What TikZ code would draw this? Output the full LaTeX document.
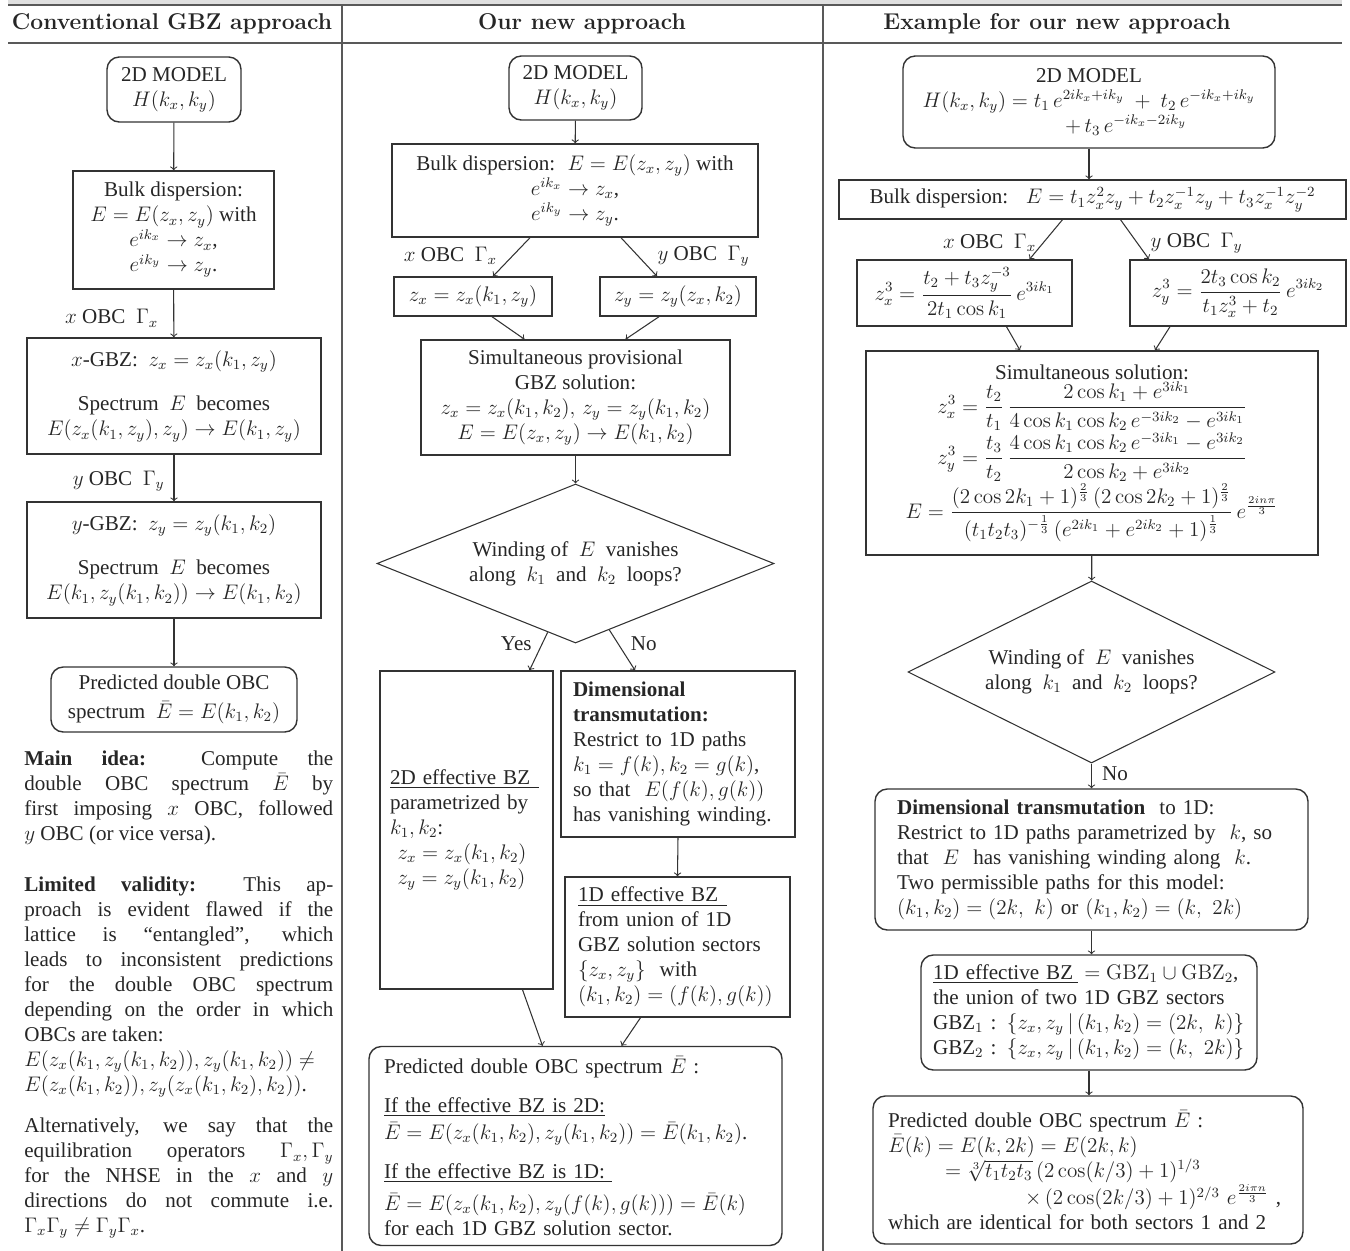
\documentclass[tikz,border=0pt]{standalone}
\usepackage{amsmath}
\usepackage{amssymb}
\usepackage{fontspec}
\newfontfamily\tms{Liberation Serif}
\usetikzlibrary{shapes.geometric,calc}

\tikzset{
  body/.style={font=\tms\fontsize{12}{14.2}\selectfont, text=black!85},
  box/.style={body, draw=black!80, line width=0.8pt, rectangle, align=center, inner sep=0pt},
  rbox/.style={box, rounded corners=7pt},
  lbox/.style={box, align=left},
  choice/.style={body, draw=black!80, line width=0.6pt, diamond, aspect=2, align=center, inner sep=0pt},
  sz/.style 2 args={minimum width=#1*0.02cm, minimum height=#2*0.02cm},
  arr/.style={draw=black!80, line width=0.6pt, ->},
  lbl/.style={body, inner sep=0pt},
  head/.style={font=\bfseries\fontsize{13}{15}\selectfont, text=black!85},
  rule/.style={draw=black!65, line width=1pt},
}

\begin{document}
\begin{tikzpicture}[x=0.02cm, y=-0.02cm]
\useasboundingbox (0,0) rectangle (1350,1251);

% table frame
\fill[black!12] (8,0) rectangle (1342,4);
\draw[rule] (8,5) -- (1342,5);
\draw[rule] (8,43) -- (1342,43);
\draw[rule] (342,5) -- (342,1251);
\draw[rule] (823,5) -- (823,1251);

\node[head] (hdL) at (172,24) {Conventional GBZ approach};
\node[head] (hdM) at (582,24) {Our new approach};
\node[head] (hdR) at (1057,24) {Example for our new approach};

% conventional approach
\node[rbox, sz={134}{65}] (modelL) at (174,89.5) {2D MODEL\\$H(k_x,k_y)$};
\node[box, sz={201}{118}] (bulkL) at (173.5,230) {Bulk dispersion:\\$E = E(z_x,z_y)$ with\\$e^{ik_x}\to z_x$,\\$e^{ik_y}\to z_y$.};
\node[box, sz={294}{116}] (xgbzL) at (174,396) {$x$-GBZ: \ $z_x = z_x(k_1,z_y)$\\[0.4cm]Spectrum \ $E$ \ becomes\\$E(z_x(k_1,z_y),z_y)\to E(k_1,z_y)$};
\node[box, sz={294}{116}] (ygbzL) at (174,560) {$y$-GBZ: \ $z_y = z_y(k_1,k_2)$\\[0.4cm]Spectrum \ $E$ \ becomes\\$E(k_1,z_y(k_1,k_2))\to E(k_1,k_2)$};
\node[rbox, sz={246}{65}] (predL) at (174,699.5) {Predicted double OBC\\[2pt]spectrum \ $\bar E = E(k_1,k_2)$};

\draw[arr] (modelL) -- (bulkL);
\draw[arr] (bulkL) -- node[lbl, pos=0.6, left=0.3cm] {$x$ OBC~~$\Gamma_x$} (xgbzL);
\draw[arr] (xgbzL) -- node[lbl, pos=0.56, left=0.18cm] {$y$ OBC~~$\Gamma_y$} (ygbzL);
\draw[arr] (ygbzL) -- (predL);

\node[lbl, anchor=north west, text width=6.18cm, align=justify] (ideaL) at (24,751)
  {\textbf{Main idea:} Compute the\linebreak double OBC spectrum $\bar E$ by\linebreak first imposing $x$ OBC, followed\linebreak $y$ OBC (or vice versa).};
\node[lbl, anchor=north west, text width=6.18cm, align=justify] (limitL) at (24,877)
  {\textbf{Limited validity:} This ap-\linebreak proach is evident flawed if the\linebreak lattice is “entangled”, which\linebreak leads to inconsistent predictions\linebreak for the double OBC spectrum\linebreak depending on the order in which\linebreak OBCs are taken:\\
  $E(z_x(k_1,z_y(k_1,k_2)),z_y(k_1,k_2))\neq$\\
  $E(z_x(k_1,k_2)),z_y(z_x(k_1,k_2),k_2))$.};
\node[lbl, anchor=north west, text width=6.18cm, align=justify] (altL) at (24,1118)
  {Alternatively, we say that the\linebreak equilibration operators $\Gamma_x,\Gamma_y$\linebreak for the NHSE in the $x$ and $y$\linebreak directions do not commute i.e.\linebreak $\Gamma_x\Gamma_y\neq\Gamma_y\Gamma_x$.};

% new approach
\node[rbox, sz={133}{64}] (modelM) at (575.5,88) {2D MODEL\\$H(k_x,k_y)$};
\node[box, sz={366}{93}] (bulkM) at (575,190.5) {Bulk dispersion: \ $E = E(z_x,z_y)$ with\\$e^{ik_x}\to z_x$,\\$e^{ik_y}\to z_y$.};
\node[box, sz={158}{39}] (zxM) at (473,296.5) {$z_x = z_x(k_1,z_y)$};
\node[box, sz={156}{39}] (zyM) at (678,296.5) {$z_y = z_y(z_x,k_2)$};
\node[box, sz={309}{115}] (simM) at (575.5,397.5) {Simultaneous provisional\\GBZ solution:\\$z_x = z_x(k_1,k_2),\, z_y = z_y(k_1,k_2)$\\$E = E(z_x,z_y)\to E(k_1,k_2)$};
\node[choice, sz={397}{159}] (diaM) at (575.5,563.5) {Winding of \ $E$ \ vanishes\\along \ $k_1$ \ and \ $k_2$ \ loops?};
\node[lbox, sz={173}{318}, text width=3.06cm] (eff2M) at (466.5,830)
  {\underline{2D effective BZ\hspace{5pt}}\\parametrized by\\$k_1,k_2$:\\\hspace*{0.15cm}$z_x = z_x(k_1,k_2)$\\\hspace*{0.15cm}$z_y = z_y(k_1,k_2)$};
\node[lbox, sz={234}{166}, text width=4.2cm] (dimM) at (678,754)
  {\textbf{Dimensional}\\\textbf{transmutation:}\\Restrict to 1D paths\\$k_1 = f(k), k_2 = g(k)$,\\so that \ $E(f(k),g(k))$\\has vanishing winding.};
\node[lbox, sz={225}{140}, text width=3.98cm] (eff1M) at (677.5,947)
  {\underline{1D effective BZ\hspace{5pt}}\\from union of 1D\\GBZ solution sectors\\$\{z_x,z_y\}$ \ with\\$(k_1,k_2) = (f(k),g(k))$};
\node[rbox, align=left, sz={413}{199}, text width=7.66cm] (predM) at (575.5,1146)
  {Predicted double OBC spectrum $\bar E$ :\\[8pt]
   \underline{If the effective BZ is 2D:}\\[1pt]
   $\bar E = E(z_x(k_1,k_2),z_y(k_1,k_2)) = \bar E(k_1,k_2)$.\\[8pt]
   \underline{If the effective BZ is 1D:\ }\\[4pt]
   $\bar E = E(z_x(k_1,k_2),z_y(f(k),g(k))) = \bar E(k)$\\
   for each 1D GBZ solution sector.};

\draw[arr] (modelM) -- (bulkM);
\draw[arr] ($(bulkM.south)+(-45,0)$) -- node[lbl, pos=0.475, left=0.3cm] {$x$ OBC~~$\Gamma_x$} ($(zxM.north)+(20,0)$);
\draw[arr] ($(bulkM.south)+(46,0)$) -- node[lbl, pos=0.475, right=0.38cm] {$y$ OBC~~$\Gamma_y$} ($(zyM.north)+(-21,0)$);
\draw[arr] ($(zxM.south)+(19,0)$) -- ($(simM.north)+(-51,0)$);
\draw[arr] ($(zyM.south)+(-19,0)$) -- ($(simM.north)+(50,0)$);
\draw[arr] (simM) -- (diaM);
\draw[arr] ($(diaM.south)!0.14!(diaM.west)$) -- node[lbl, pos=0.3, left=0.2cm] {Yes} ($(eff2M.north)+(63,0)$);
\draw[arr] ($(diaM.south)!0.17!(diaM.east)$) -- node[lbl, pos=0.35, right=0.24cm] {No} ($(dimM.north)+(-43,0)$);
\draw[arr] (dimM.south) -- (eff1M.north);
\draw[arr] ($(eff2M.south)+(56,0)$) -- ($(predM.north)+(-33,0)$);
\draw[arr] ($(eff1M.south)+(-37,0)$) -- ($(predM.north)+(46,0)$);

% worked example
\node[rbox, sz={372}{92}] (modelR) at (1089,102)
  {2D MODEL\\$H(k_x,k_y) = t_1\,e^{2ik_x+ik_y} \ + \ t_2\,e^{-ik_x+ik_y}$\\\hspace{1.48cm}$+\,t_3\,e^{-ik_x-2ik_y}$};
\node[box, sz={507}{39}] (bulkR) at (1092.5,199.5)
  {Bulk dispersion: \ \ $E = t_1z_x^2z_y + t_2z_x^{-1}z_y + t_3z_x^{-1}z_y^{-2}$};
\node[box, sz={215}{66}] (zxR) at (964.5,293)
  {$\displaystyle z_x^3 = \frac{t_2+t_3z_y^{-3}}{2t_1\cos k_1}\,e^{3ik_1}$};
\node[box, sz={216}{66}] (zyR) at (1238,293)
  {$\displaystyle z_y^3 = \frac{2t_3\cos k_2}{t_1z_x^3+t_2}\,e^{3ik_2}$};
\node[box, sz={452}{204}] (simR) at (1092,453)
  {Simultaneous solution:\\
   $\displaystyle z_x^3 = \frac{t_2}{t_1}\,\frac{2\cos k_1+e^{3ik_1}}{4\cos k_1\cos k_2\,e^{-3ik_2}-e^{3ik_1}}$\\
   $\displaystyle z_y^3 = \frac{t_3}{t_2}\,\frac{4\cos k_1\cos k_2\,e^{-3ik_1}-e^{3ik_2}}{2\cos k_2+e^{3ik_2}}$\\
   $\displaystyle E = \frac{(2\cos 2k_1+1)^{\frac23}\,(2\cos 2k_2+1)^{\frac23}}{(t_1t_2t_3)^{-\frac13}\,(e^{2ik_1}+e^{2ik_2}+1)^{\frac13}}\,e^{\frac{2in\pi}{3}}$};
\node[choice, sz={367}{182}] (diaR) at (1091.5,672) {Winding of \ $E$ \ vanishes\\along \ $k_1$ \ and \ $k_2$ \ loops?};
\node[rbox, align=left, sz={433}{141}, text width=7.78cm] (dimR) at (1091.5,859.5)
  {\textbf{Dimensional transmutation} \ to 1D:\\
   Restrict to 1D paths parametrized by \ $k$, so\\
   that \ $E$ \ has vanishing winding along \ $k$.\\
   Two permissible paths for this model:\\
   $(k_1,k_2) = (2k,\ k)$ or $(k_1,k_2) = (k,\ 2k)$};
\node[rbox, align=left, sz={336}{115}, text width=6.24cm] (eff1R) at (1089,1012.5)
  {\underline{1D effective BZ\hspace{3pt}}${}= \mathrm{GBZ}_1\cup\mathrm{GBZ}_2$,\\
   the union of two 1D GBZ sectors\\
   GBZ$_1$ : $\{z_x,z_y\,|\,(k_1,k_2) = (2k,\ k)\}$\\
   GBZ$_2$ : $\{z_x,z_y\,|\,(k_1,k_2) = (k,\ 2k)\}$};
\node[rbox, align=left, sz={430}{148}, text width=8.0cm] (predR) at (1088,1170)
  {Predicted double OBC spectrum $\bar E$ :\\
   $\bar E(k) = E(k,2k) = E(2k,k)$\\
   \hspace*{1.14cm}$= \sqrt[3]{t_1t_2t_3}\,(2\cos(k/3)+1)^{1/3}$\\
   \hspace*{2.74cm}$\times\,(2\cos(2k/3)+1)^{2/3}\ e^{\frac{2i\pi n}{3}}$ ,\\
   which are identical for both sectors 1 and 2};

\draw[arr] (modelR.south) -- (modelR.south |- bulkR.north);
\draw[arr] ($(bulkR.south)+(-30,0)$) -- node[lbl, pos=0.585, left=0.13cm] {$x$ OBC~~$\Gamma_x$} ($(zxR.north)+(65,0)$);
\draw[arr] ($(bulkR.south)+(28,0)$) -- node[lbl, pos=0.585, right=0.26cm] {$y$ OBC~~$\Gamma_y$} ($(zyR.north)+(-89,0)$);
\draw[arr] ($(zxR.south)+(42,0)$) -- ($(simR.north)+(-72,0)$);
\draw[arr] ($(zyR.south)+(-68,0)$) -- ($(simR.north)+(63,0)$);
\draw[arr] (simR) -- (diaR);
\draw[arr] (diaR.south) -- node[lbl, pos=0.4, right=0.2cm] {No} (diaR.south |- dimR.north);
\draw[arr] (dimR.south) -- (dimR.south |- eff1R.north);
\draw[arr] (eff1R.south) -- (eff1R.south |- predR.north);
\end{tikzpicture}
\end{document}
